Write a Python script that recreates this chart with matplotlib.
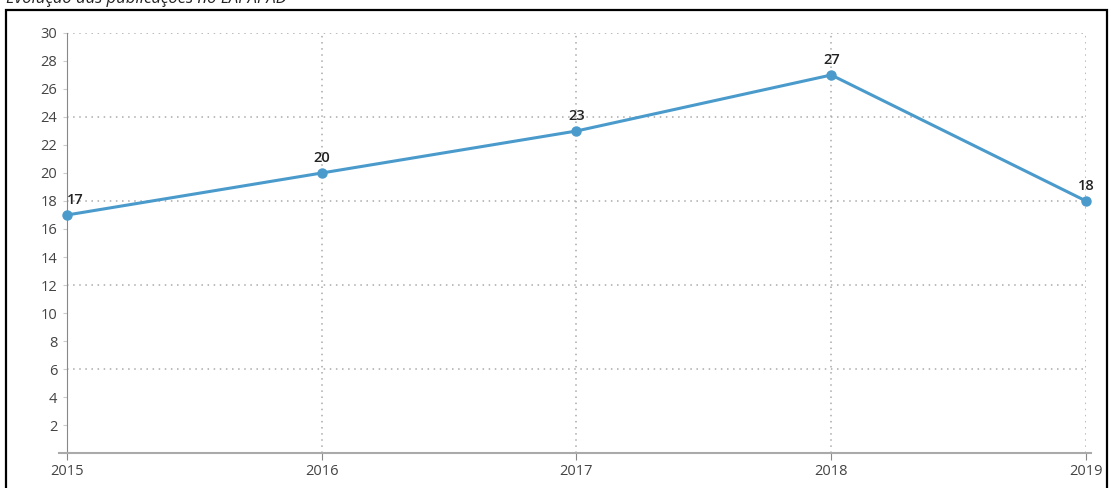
import matplotlib.pyplot as plt
from matplotlib.patches import Rectangle

years = [2015, 2016, 2017, 2018, 2019]
publicacoes = [17, 20, 23, 27, 18]
y_ticks = list(range(2, 31, 2))
grid_y = [6, 12, 18, 24, 30]

plt.rcParams['font.family'] = ['Open Sans', 'DejaVu Sans']

fig = plt.figure(figsize=(11.11, 4.88), dpi=100)
ax = fig.add_axes([0.0603, 0.0717, 0.9172, 0.8607])

# moldura preta
fig.patches.append(Rectangle((0.005, -0.01), 0.991, 0.99, transform=fig.transFigure,
                             fill=False, edgecolor='black', linewidth=1.6))
fig.text(0.005, 0.985, 'Evolução das publicações no LAPAPAD', ha='left', va='bottom',
         fontsize=12, style='italic', color='#222222')

for g in grid_y:
    ax.axhline(g, color='#aaaaaa', linestyle=(0, (1, 3)), linewidth=1.1, zorder=1)
for yr in years[1:]:
    ax.axvline(yr, color='#aaaaaa', linestyle=(0, (1, 3)), linewidth=1.1, zorder=1)

ax.plot(years, publicacoes, color='#4a9bcc', linewidth=2.2, marker='o', markersize=6.5,
        zorder=3, clip_on=False)

for x, y in zip(years, publicacoes):
    ax.annotate(str(y), (x, y), xytext=(0, 6), textcoords='offset points',
                ha='left' if x == 2015 else 'center', va='bottom',
                fontsize=10.5, fontweight='semibold', color='#222222')

ax.set_xlim(2015, 2019)
ax.set_ylim(0, 30)
ax.set_yticks(y_ticks)
ax.set_xticks(years)
ax.set_xticklabels([str(y) for y in years])
ax.tick_params(axis='y', length=3, color='#cccccc', labelsize=10.5, labelcolor='#444444', pad=4)
ax.tick_params(axis='x', length=5, color='#888888', labelsize=10.5, labelcolor='#444444', pad=3)

for s in ['top', 'right']:
    ax.spines[s].set_visible(False)
ax.spines['left'].set_color('#888888')
ax.spines['bottom'].set_color('#aaaaaa')
ax.spines['bottom'].set_linewidth(1.5)
ax.spines['bottom'].set_bounds(2015 - 0.03, 2019 + 0.02)

plt.savefig('out.png', dpi=100)
